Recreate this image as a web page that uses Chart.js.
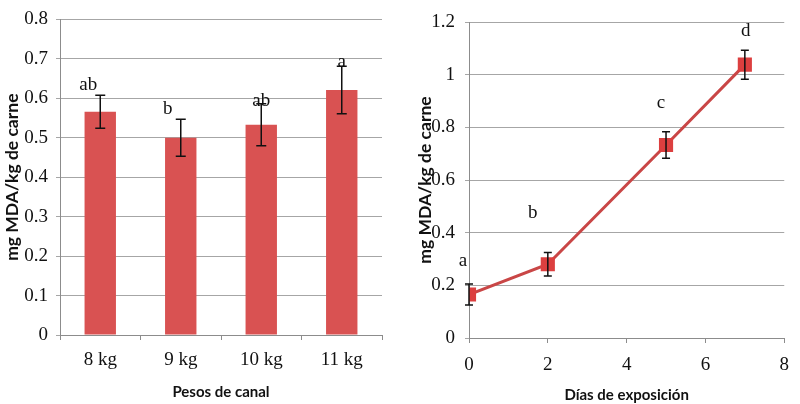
<!DOCTYPE html>
<html>
<head>
<meta charset="utf-8">
<script src="https://cdn.jsdelivr.net/npm/chart.js@4/dist/chart.umd.min.js"></script>
<style>
  html, body { margin: 0; padding: 0; background: #fff; }
  .wrap { position: absolute; top: 0; width: 400px; height: 404px; }
  #left { left: 0; }
  #right { left: 400px; }
</style>
</head>
<body>
<div class="wrap" id="left"><canvas id="c1" width="400" height="404"></canvas></div>
<div class="wrap" id="right"><canvas id="c2" width="400" height="404"></canvas></div>
<script>
// Carcass weight groups: MDA content with standard error and significance letters
const pesos = ['8 kg', '9 kg', '10 kg', '11 kg'];
const mdaPeso = [0.566, 0.500, 0.533, 0.621];
const errPeso = [0.042, 0.047, 0.053, 0.060];
const letrasPeso = ['ab', 'b', 'ab', 'a'];

// Display days: MDA content with standard error and significance letters
const dias = [0, 2, 5, 7];
const mdaDias = [0.165, 0.280, 0.733, 1.038];
const errDias = [0.040, 0.045, 0.050, 0.055];
const letrasDias = ['a', 'b', 'c', 'd'];

const yTicksPeso = [0, 0.1, 0.2, 0.3, 0.4, 0.5, 0.6, 0.7, 0.8];
const yTicksDias = [0, 0.2, 0.4, 0.6, 0.8, 1, 1.2];
const xTicksDias = [0, 2, 4, 6, 8];

const RED = '#d95252';
const LINE_RED = '#c94646';
const GRID = '#a6a6a6';
const AXIS = '#8c8c8c';
const SERIF = '"Liberation Serif", "Times New Roman", serif';
const SANS = 'Lato, "Open Sans", sans-serif';

// letter placement relative to the top of each error bar (pixels)
const letterShiftPeso = [[-12, -1], [-13, -1], [0, 7], [0, 5]];
const letterShiftDias = [[-6, -14], [-15, -30], [-5, -19], [1, -10]];

function errorBarPlugin(errs, letters, shifts, cap) {
  return {
    id: 'errbars',
    afterDatasetsDraw(chart) {
      const ctx = chart.ctx;
      const meta = chart.getDatasetMeta(0);
      const y = chart.scales.y;
      const vals = chart.data.datasets[0].data.map(d => (typeof d === 'object' ? d.y : d));
      ctx.save();
      ctx.strokeStyle = '#111';
      ctx.lineWidth = 1.5;
      meta.data.forEach((el, i) => {
        const x = el.x;
        const top = y.getPixelForValue(vals[i] + errs[i]);
        const bot = y.getPixelForValue(vals[i] - errs[i]);
        ctx.beginPath();
        ctx.moveTo(x, top); ctx.lineTo(x, bot);
        ctx.moveTo(x - cap, top); ctx.lineTo(x + cap, top);
        ctx.moveTo(x - cap, bot); ctx.lineTo(x + cap, bot);
        ctx.stroke();
      });
      ctx.fillStyle = '#111';
      ctx.font = '19px ' + SERIF;
      ctx.textAlign = 'center';
      ctx.textBaseline = 'bottom';
      meta.data.forEach((el, i) => {
        const top = y.getPixelForValue(vals[i] + errs[i]);
        ctx.fillText(letters[i], el.x + shifts[i][0], top + shifts[i][1]);
      });
      ctx.restore();
    }
  };
}

function fixedTicks(list) {
  return function (scale) {
    scale.ticks = list.map(v => ({ value: v }));
  };
}

Chart.defaults.animation = false;

new Chart(document.getElementById('c1'), {
  type: 'bar',
  data: {
    labels: pesos,
    datasets: [{
      data: mdaPeso,
      backgroundColor: RED,
      borderWidth: 0,
      categoryPercentage: 1,
      barPercentage: 0.39
    }]
  },
  options: {
    responsive: false,
    events: [],
    layout: { padding: { top: 17, right: 18, bottom: 0, left: 0 } },
    plugins: { legend: { display: false }, tooltip: { enabled: false } },
    scales: {
      x: {
        grid: { drawOnChartArea: false, drawTicks: true, tickLength: 5, color: AXIS, offset: true },
        border: { color: AXIS, width: 1 },
        ticks: { color: '#111', font: { family: SERIF, size: 19 }, padding: 9 },
        title: { display: true, text: 'Pesos de canal', color: '#111',
                 font: { family: SANS, size: 15, weight: 'bold' }, padding: { top: 0, bottom: 3 } },
        afterFit(s) { s.height = 69; }
      },
      y: {
        min: 0, max: 0.8,
        afterBuildTicks: fixedTicks(yTicksPeso),
        grid: { color: GRID, tickLength: 4, lineWidth: 1 },
        border: { color: AXIS, width: 1 },
        ticks: { color: '#111', font: { family: SERIF, size: 19 }, padding: 8,
                 callback: v => String(v) },
        title: { display: true, text: 'mg MDA/kg de carne', color: '#111',
                 font: { family: SANS, size: 17.5, weight: 'bold' }, padding: { top: 2, bottom: 0 } },
        afterFit(s) { s.width = 60; }
      }
    }
  },
  plugins: [errorBarPlugin(errPeso, letrasPeso, letterShiftPeso, 5)]
});

new Chart(document.getElementById('c2'), {
  type: 'line',
  data: {
    datasets: [{
      data: dias.map((d, i) => ({ x: d, y: mdaDias[i] })),
      borderColor: LINE_RED,
      borderWidth: 3,
      backgroundColor: RED,
      pointStyle: 'rect',
      pointRadius: 10,
      pointBackgroundColor: '#dc3f3f',
      pointBorderColor: '#dc3f3f',
      pointBorderWidth: 0,
      tension: 0
    }]
  },
  options: {
    responsive: false,
    events: [],
    layout: { padding: { top: 22, right: 6, bottom: 0, left: 0 } },
    plugins: { legend: { display: false }, tooltip: { enabled: false } },
    scales: {
      x: {
        type: 'linear', min: 0, max: 8,
        afterBuildTicks: fixedTicks(xTicksDias),
        grid: { drawOnChartArea: false, drawTicks: true, tickLength: 5, color: AXIS },
        border: { color: AXIS, width: 1 },
        ticks: { color: '#111', font: { family: SERIF, size: 19 }, padding: 11 },
        title: { display: true, text: 'Días de exposición', color: '#111',
                 font: { family: SANS, size: 15, weight: 'bold' }, padding: { top: 0, bottom: 0 } },
        afterFit(s) { s.height = 66; }
      },
      y: {
        min: 0, max: 1.2,
        afterBuildTicks: fixedTicks(yTicksDias),
        grid: { color: GRID, tickLength: 4, lineWidth: 1 },
        border: { color: AXIS, width: 1 },
        ticks: { color: '#111', font: { family: SERIF, size: 19 }, padding: 10,
                 callback: v => String(v) },
        title: { display: true, text: 'mg MDA/kg de carne', color: '#111',
                 font: { family: SANS, size: 17.5, weight: 'bold' }, padding: { top: 15, bottom: 0 } },
        afterFit(s) { s.width = 69; }
      }
    }
  },
  plugins: [errorBarPlugin(errDias, letrasDias, letterShiftDias, 4)]
});
</script>
</body>
</html>
